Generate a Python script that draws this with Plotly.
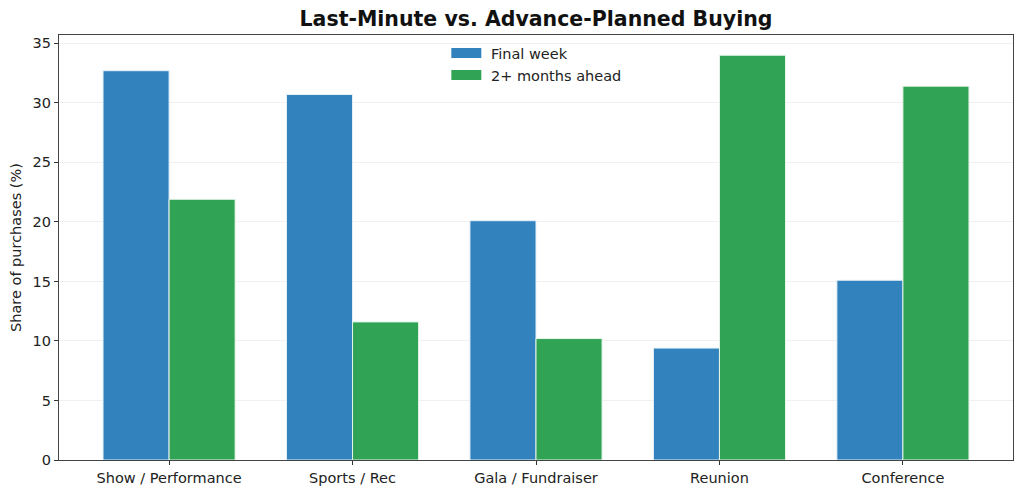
import plotly.graph_objects as go

categories = ["Show / Performance", "Sports / Rec", "Gala / Fundraiser", "Reunion", "Conference"]
final_week = [32.7, 30.7, 20.1, 9.4, 15.1]
months_ahead = [21.9, 11.6, 10.2, 34.0, 31.4]
y_ticks = [0, 5, 10, 15, 20, 25, 30, 35]
series_names = ["Final week", "2+ months ahead"]
series_colors = ["#3182bd", "#31a354"]

x = list(range(len(categories)))

fig = go.Figure()
for vals, name, col, edge in zip([final_week, months_ahead], series_names, series_colors,
                                 ["#e6f0f8", "#e6f4ea"]):
    fig.add_trace(go.Bar(x=x, y=vals, name=name, showlegend=False,
                         marker=dict(color=col, line=dict(color=edge, width=1))))
# legend entries drawn as wide patches
for name, col in zip(series_names, series_colors):
    fig.add_trace(go.Scatter(x=[None], y=[None], mode="lines", name="\u00a0" + name,
                             line=dict(color=col, width=10)))

font = "DejaVu Sans"
fig.update_layout(
    width=1008, height=479,
    margin=dict(l=51, r=3, t=27, b=27, autoexpand=False),
    paper_bgcolor="white", plot_bgcolor="white",
    barmode="group", bargap=0.28, bargroupgap=0,
    font=dict(family=font, size=14.5, color="#222222"),
    title=dict(text="<b>Last-Minute vs. Advance-Planned Buying</b>", x=0.5, xref="paper",
               xanchor="center", y=0.977, yanchor="middle",
               font=dict(size=20.5, color="#111111", family=font)),
    legend=dict(x=0.406, xanchor="left", y=0.995, yanchor="top", bgcolor="rgba(0,0,0,0)",
                font=dict(size=14.5), tracegroupgap=0),
    showlegend=True,
)
fig.update_xaxes(
    range=[-0.6, 4.6], tickvals=x, ticktext=categories, automargin=False,
    ticks="outside", ticklen=4, tickcolor="#333333",
    showline=True, linecolor="#444444", linewidth=1.2, mirror=True,
    showgrid=False, zeroline=False,
)
fig.update_yaxes(
    range=[0, 35.7], tickvals=y_ticks, automargin=False,
    ticks="outside", ticklen=4, tickcolor="#333333",
    showline=True, linecolor="#444444", linewidth=1.2, mirror=True,
    showgrid=True, gridcolor="#f0f0f0", gridwidth=1, zeroline=False,
    title=dict(text="Share of purchases (%)", font=dict(size=14.5), standoff=8),
)
fig.write_html("out.html")
